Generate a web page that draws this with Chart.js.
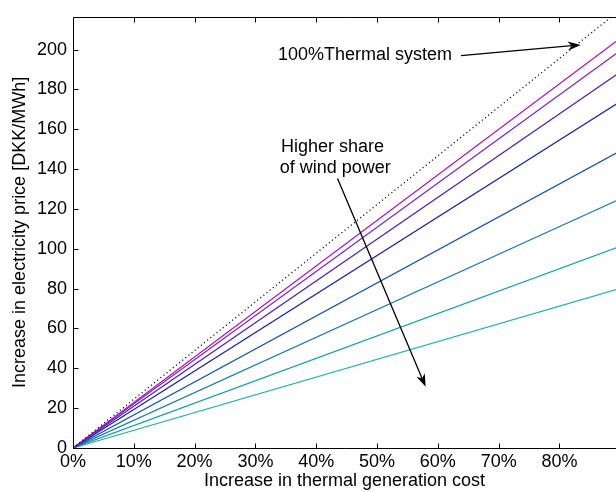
<!DOCTYPE html>
<html><head><meta charset="utf-8">
<script src="https://cdn.jsdelivr.net/npm/chart.js@4/dist/chart.umd.min.js"></script>
<style>html,body{margin:0;padding:0;background:#fff;overflow:hidden}</style>
</head><body>
<canvas id="c" width="616" height="492"></canvas>
<script>
// Increase in thermal generation cost (%)
const costIncrease = [0, 100];
// Increase in electricity price (DKK/MWh) at 0% and 100% cost increase
const thermalSystem = [0, 244.5];
const windShare1 = [0, 228.5];
const windShare2 = [0, 221.7];
const windShare3 = [0, 209.7];
const windShare4 = [0, 193.3];
const windShare5 = [0, 165.7];
const windShare6 = [0, 138.9];
const windShare7 = [0, 112.5];
const windShare8 = [0, 89.0];
const xTicks = [0, 10, 20, 30, 40, 50, 60, 70, 80];
const yTicks = [0, 20, 40, 60, 80, 100, 120, 140, 160, 180, 200];
const xLimits = [0, 89.3];
const yLimits = [0, 216.5];

const windSeries = [windShare1, windShare2, windShare3, windShare4, windShare5, windShare6, windShare7, windShare8];
const windColors = ['#b010b8', '#7a22c8', '#4a1ec0', '#1a24a6', '#1c56b2', '#1a7aaa', '#14a0aa', '#22aeac'];

const FONT = {family: '"Liberation Sans", Arial, Helvetica, sans-serif', size: 18};

const toPts = vals => vals.map((v, i) => ({x: costIncrease[i], y: v}));

const datasets = [{
  label: '100% Thermal system',
  data: toPts(thermalSystem),
  borderColor: '#000',
  borderWidth: 1.3,
  borderDash: [1, 3],
  pointRadius: 0
}].concat(windSeries.map((s, i) => ({
  label: 'Wind share ' + (i + 1),
  data: toPts(s),
  borderColor: windColors[i],
  borderWidth: 1.2,
  pointRadius: 0
})));

function drawArrow(ctx, x0, y0, x1, y1) {
  const ang = Math.atan2(y1 - y0, x1 - x0);
  const L = 13, W = 4.5;
  const bx = x1 - L * Math.cos(ang), by = y1 - L * Math.sin(ang);
  const ix = x1 - 0.7 * L * Math.cos(ang), iy = y1 - 0.7 * L * Math.sin(ang);
  const px = -Math.sin(ang) * W, py = Math.cos(ang) * W;
  ctx.beginPath();
  ctx.moveTo(x0, y0);
  ctx.lineTo(ix, iy);
  ctx.lineWidth = 1.3;
  ctx.strokeStyle = '#000';
  ctx.stroke();
  ctx.beginPath();
  ctx.moveTo(x1, y1);
  ctx.lineTo(bx + px, by + py);
  ctx.lineTo(ix, iy);
  ctx.lineTo(bx - px, by - py);
  ctx.closePath();
  ctx.fillStyle = '#000';
  ctx.fill();
}

const framePlugin = {
  id: 'frame',
  afterDraw(chart) {
    const {ctx, chartArea: a, scales: {x, y}} = chart;
    ctx.save();
    ctx.strokeStyle = '#000';
    ctx.lineWidth = 1;
    const L = Math.round(a.left) + 0.5, B = Math.round(a.bottom) + 0.5, T = Math.round(a.top) + 0.5;
    ctx.beginPath();
    ctx.moveTo(L, T); ctx.lineTo(a.right + 2, T);
    ctx.moveTo(L, T); ctx.lineTo(L, B);
    ctx.moveTo(L, B); ctx.lineTo(a.right + 2, B);
    const tl = 5;
    xTicks.forEach(v => {
      const px = Math.round(x.getPixelForValue(v)) + 0.5;
      ctx.moveTo(px, B); ctx.lineTo(px, B - tl);
      ctx.moveTo(px, T); ctx.lineTo(px, T + tl);
    });
    yTicks.forEach(v => {
      const py = Math.round(y.getPixelForValue(v)) + 0.5;
      ctx.moveTo(L, py); ctx.lineTo(L + tl, py);
    });
    ctx.stroke();

    // annotations
    ctx.fillStyle = '#000';
    ctx.font = '18px "Liberation Sans", Arial, Helvetica, sans-serif';
    ctx.textBaseline = 'middle';
    ctx.textAlign = 'left';
    ctx.fillText('100%Thermal system', x.getPixelForValue(33.7), y.getPixelForValue(197.5));
    ctx.fillText('Higher share', x.getPixelForValue(34.2), y.getPixelForValue(151));
    ctx.fillText('of wind power', x.getPixelForValue(34.0), y.getPixelForValue(140.6));
    drawArrow(ctx, x.getPixelForValue(63.8), y.getPixelForValue(197), x.getPixelForValue(83.5), y.getPixelForValue(202.4));
    drawArrow(ctx, x.getPixelForValue(43.5), y.getPixelForValue(135.3), x.getPixelForValue(58.0), y.getPixelForValue(30.7));
    ctx.restore();
  }
};

new Chart(document.getElementById('c'), {
  type: 'line',
  data: {datasets},
  options: {
    responsive: false,
    animation: false,
    layout: {padding: {top: 15, left: 0, right: 0, bottom: 0}},
    plugins: {legend: {display: false}, tooltip: {enabled: false}},
    elements: {line: {tension: 0}},
    scales: {
      x: {
        type: 'linear', min: xLimits[0], max: xLimits[1],
        afterBuildTicks: s => { s.ticks = xTicks.map(v => ({value: v})); },
        grid: {display: false, drawTicks: false},
        border: {display: false},
        ticks: {font: FONT, color: '#000', padding: 3, maxRotation: 0, autoSkip: false, callback: v => v + '%'},
        title: {display: true, text: 'Increase in thermal generation cost', font: FONT, color: '#000', padding: {top: 0, bottom: 0}},
        afterFit: s => { s.height = 44; }
      },
      y: {
        type: 'linear', min: yLimits[0], max: yLimits[1],
        afterBuildTicks: s => { s.ticks = yTicks.map(v => ({value: v})); },
        grid: {display: false, drawTicks: false},
        border: {display: false},
        ticks: {font: FONT, color: '#000', padding: 6, autoSkip: false},
        title: {display: true, text: 'Increase in electricity price [DKK/MWh]', font: FONT, color: '#000', padding: {top: 9, bottom: 0}},
        afterFit: s => { s.width = 73; }
      }
    }
  },
  plugins: [framePlugin]
});
</script>
</body></html>
